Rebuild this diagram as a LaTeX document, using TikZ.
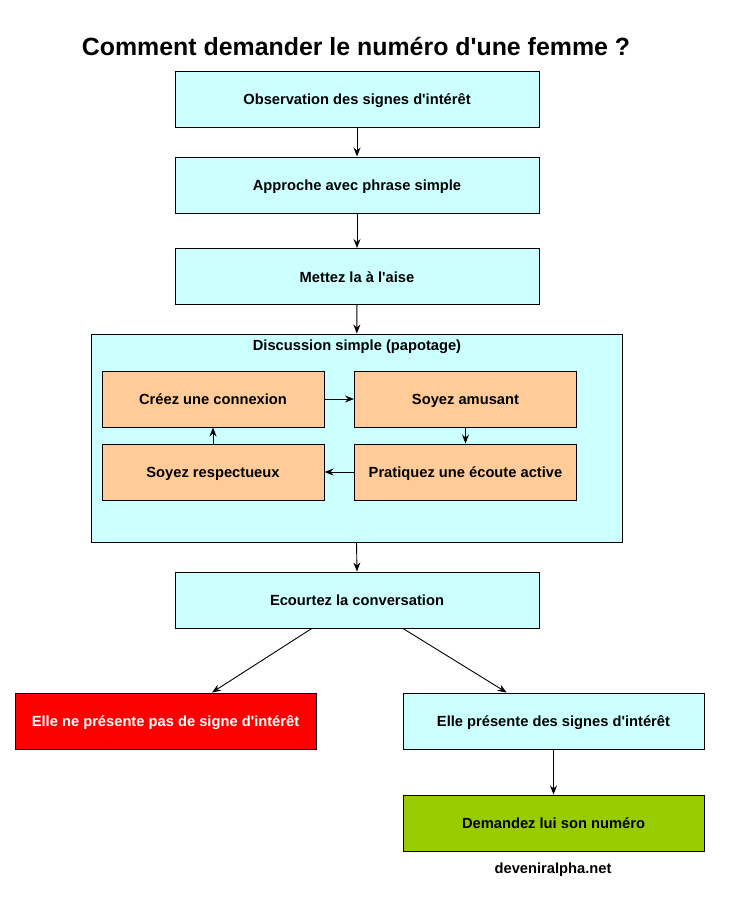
\documentclass[tikz,border=0pt]{standalone}
\usepackage{fontspec}
\setmainfont{Liberation Sans}[Ligatures=TeXOff]
\usetikzlibrary{arrows.meta,calc}
\definecolor{cyanbox}{HTML}{CCFFFF}
\definecolor{orangebox}{HTML}{FFCC99}
\definecolor{redbox}{HTML}{FF0000}
\definecolor{greenbox}{HTML}{99CC00}
\tikzset{
  box/.style={draw=black, line width=1pt, inner sep=0pt, align=center,
    text height=13pt, text depth=1.1pt,
    font=\fontsize{14.7}{17}\selectfont\bfseries},
  mainbox/.style={box, fill=cyanbox, minimum width=364pt, minimum height=56pt},
  subbox/.style={box, fill=orangebox, minimum width=222pt, minimum height=56pt},
  sidebox/.style={box, minimum width=301pt, minimum height=56pt},
  conn/.style={draw=black, line width=0.9pt, -{Stealth[length=9pt,width=7pt,inset=3pt]}},
  txt/.style={font=\fontsize{14.7}{17}\selectfont\bfseries, inner sep=0pt},
}
\begin{document}
\begin{tikzpicture}[x=1pt,y=-1pt]
\useasboundingbox (0,0) rectangle (751,913);
\node[font=\fontsize{24.9}{28}\selectfont\bfseries, inner sep=0pt] (title) at (356,46) {Comment demander le numéro d'une femme ?};
\node[mainbox] (obs) at (357,99) {Observation des signes d'intérêt};
\node[mainbox] (app) at (357,185) {Approche avec phrase simple};
\node[mainbox] (met) at (357,276.5) {Mettez la à l'aise};
\node[box, fill=cyanbox, minimum width=531pt, minimum height=208pt] (disc) at (356.5,438) {};
\node[txt] (disclab) at (357,347) {Discussion simple (papotage)};
\node[subbox] (cree) at (213,399) {Créez une connexion};
\node[subbox] (amus) at (465.5,399) {Soyez amusant};
\node[subbox] (resp) at (213,472) {Soyez respectueux};
\node[subbox] (prat) at (465.5,472) {Pratiquez une écoute active};
\node[mainbox] (ecou) at (357,600) {Ecourtez la conversation};
\node[sidebox, fill=redbox, text=white] (non) at (165.5,721) {Elle ne présente pas de signe d'intérêt};
\node[sidebox, fill=cyanbox] (oui) at (553.5,721) {Elle présente des signes d'intérêt};
\node[sidebox, fill=greenbox] (num) at (553.5,823) {Demandez lui son numéro};
\node[txt] (site) at (553,870) {deveniralpha.net};
\draw[conn] (obs) -- (app);
\draw[conn] (app) -- (met);
\draw[conn] (met) -- (disc);
\draw[conn] (cree) -- (amus);
\draw[conn] (amus) -- (prat);
\draw[conn] (prat) -- (resp);
\draw[conn] (resp) -- (cree);
\draw[conn] (disc.south) -- (ecou.north);
\draw[conn] ($(ecou.south west)!0.376!(ecou.south east)$) -- ($(non.north west)!0.654!(non.north east)$);
\draw[conn] ($(ecou.south west)!0.626!(ecou.south east)$) -- ($(oui.north west)!0.345!(oui.north east)$);
\draw[conn] (oui) -- (num);
\end{tikzpicture}
\end{document}
